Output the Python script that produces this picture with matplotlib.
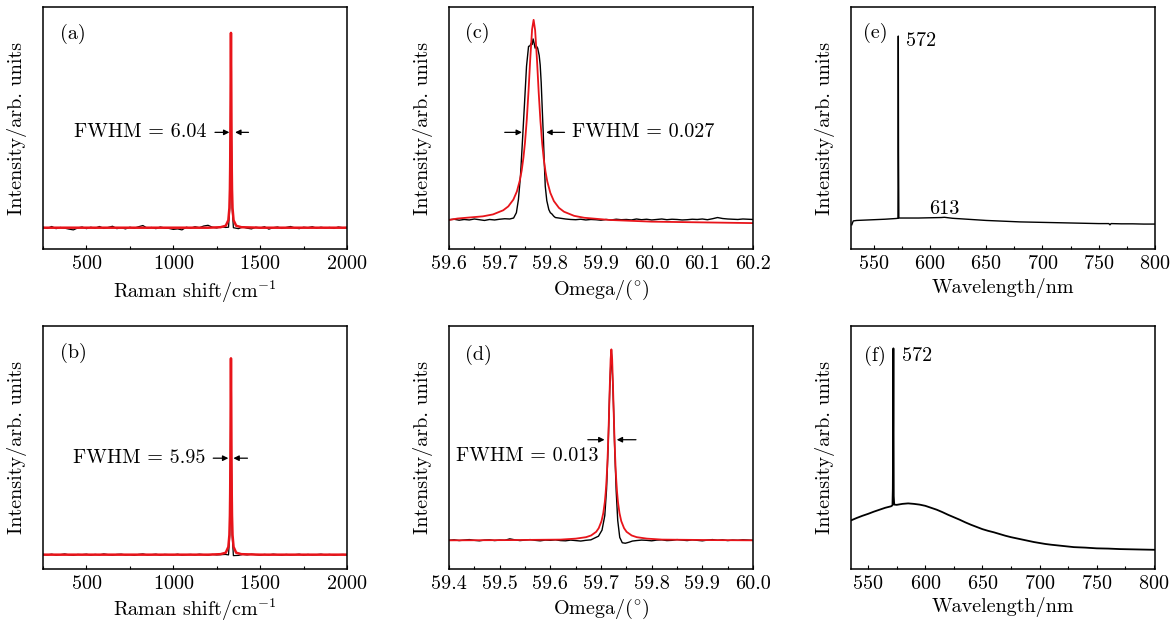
import matplotlib
matplotlib.use("Agg")
import matplotlib.pyplot as plt
from matplotlib.ticker import MultipleLocator

plt.rcParams["font.family"] = "cmr10"
plt.rcParams["mathtext.fontset"] = "cm"
plt.rcParams["axes.formatter.use_mathtext"] = True
plt.rcParams["font.size"] = 14.5

RED = "#e8141a"

# (a) Raman, sample 1
a_black_x = [250, 275, 300, 325, 350, 375, 400, 425, 450, 475, 500, 525, 550, 575, 600, 625,
             650, 675, 700, 725, 750, 775, 800, 825, 850, 875, 900, 925, 950, 975, 1000, 1025,
             1050, 1075, 1100, 1125, 1150, 1175, 1200, 1225, 1250, 1275, 1300,
             1318, 1325, 1329, 1332, 1335, 1339, 1346,
             1375, 1400, 1425, 1450, 1475, 1500, 1525, 1550, 1575, 1600, 1625, 1650, 1675,
             1700, 1725, 1750, 1775, 1800, 1825, 1850, 1875, 1900, 1925, 1950, 1975, 2000]
a_black_y = [.090, .085, .093, .084, .089, .086, .082, .079, .087, .091, .084, .090, .086, .093,
             .085, .089, .094, .084, .088, .083, .090, .086, .092, .097, .086, .089, .084, .091,
             .087, .085, .081, .083, .079, .090, .086, .092, .088, .095, .098, .090, .087, .092,
             .089,
             .090, .17, .45, .89, .45, .17, .088,
             .084, .091, .086, .083, .090, .087, .092, .082, .088, .091, .085, .089, .093, .087,
             .084, .090, .088, .092, .086, .090, .087, .089, .085, .091, .088, .089]
raman_fit_x = [250, 800, 1200, 1272, 1302, 1317, 1323, 1326, 1327.5, 1329, 1330.5, 1332,
               1333.5, 1335, 1336.5, 1338, 1341, 1347, 1362, 1392, 1500, 2000]
a_red_y = [.088, .088, .088, .090, .096, .119, .169, .249, .338, .490, .732, .893,
           .732, .490, .338, .249, .169, .119, .096, .090, .088, .088]

# (b) Raman, sample 2
b_black_x = a_black_x
b_black_y = [.060, .058, .061, .057, .059, .062, .058, .056, .060, .059, .061, .057, .060, .058,
             .062, .059, .057, .060, .061, .058, .059, .056, .060, .062, .058, .059, .061, .057,
             .060, .059, .058, .061, .057, .059, .060, .058, .061, .059, .057, .060, .058, .059,
             .060,
             .058, .14, .43, .86, .43, .14, .055,
             .056, .060, .058, .061, .059, .057, .060, .058, .061, .059, .057, .060, .058, .059,
             .061, .057, .060, .058, .059, .061, .058, .060, .057, .059, .060, .059]
b_red_y = [.059, .059, .059, .061, .067, .091, .140, .221, .309, .463, .705, .867,
           .705, .463, .309, .221, .140, .091, .067, .061, .059, .059]

# (c) rocking curve, sample 1
c_black_x = [59.60, 59.61, 59.62, 59.63, 59.64, 59.65, 59.66, 59.67, 59.68, 59.69, 59.70, 59.71,
             59.72,
             59.7275, 59.733, 59.737, 59.741, 59.744, 59.749, 59.753, 59.757, 59.760, 59.762,
             59.764, 59.766, 59.768, 59.770, 59.772, 59.775, 59.778, 59.780, 59.782, 59.784,
             59.786, 59.788, 59.790, 59.793, 59.797, 59.800, 59.803, 59.807,
             59.81, 59.82, 59.83, 59.84, 59.85, 59.86, 59.87, 59.88, 59.89, 59.90, 59.91, 59.92,
             59.93, 59.94, 59.95, 59.96, 59.97, 59.98, 59.99, 60.00, 60.01, 60.02, 60.03, 60.04,
             60.05, 60.06, 60.07, 60.08, 60.09, 60.10, 60.11, 60.12, 60.13, 60.14, 60.15, 60.16,
             60.17, 60.18, 60.19, 60.20]
c_black_y = [.121, .123, .119, .122, .120, .124, .121, .118, .122, .120, .123, .125, .124,
             .128, .15, .204, .30, .41, .60, .755, .837, .84, .85, .845, .868, .85, .83, .84,
             .83, .80, .76, .686, .58, .479, .36, .259, .20, .163, .15, .145, .135,
             .130, .127, .124, .122, .121, .123, .120, .122, .121, .119, .122, .120, .123, .121,
             .122, .120, .124, .121, .123, .120, .122, .124, .121, .123, .122, .120, .121, .123,
             .122, .124, .121, .125, .130, .126, .124, .123, .122, .124, .123, .122]
c_red_x = [59.60, 59.617, 59.667, 59.687, 59.707, 59.717, 59.727, 59.734, 59.740, 59.7435,
           59.747, 59.750, 59.7535, 59.757, 59.76025, 59.764, 59.767,
           59.770, 59.77375, 59.777, 59.7805, 59.784, 59.787, 59.7905, 59.794, 59.800, 59.807,
           59.817, 59.827, 59.847, 59.867, 59.917, 60.0, 60.1, 60.2]
c_red_y = [.120, .126, .135, .143, .160, .176, .204, .238, .285, .325,
           .379, .440, .534, .654, .782, .908, .947,
           .904, .778, .648, .528, .434, .373, .319, .279, .232, .198,
           .170, .154, .137, .129, .120, .113, .110, .107]

# (d) rocking curve, sample 2
d_black_x = [59.40, 59.41, 59.42, 59.43, 59.44, 59.45, 59.46, 59.47, 59.48, 59.49, 59.50, 59.51,
             59.52, 59.53, 59.54, 59.55, 59.56, 59.57, 59.58, 59.59, 59.60, 59.61, 59.62, 59.63,
             59.64, 59.65, 59.66, 59.67,
             59.68, 59.695, 59.702, 59.7075, 59.711, 59.714, 59.7172, 59.7205, 59.7237, 59.727,
             59.730, 59.733, 59.737, 59.742, 59.748, 59.755, 59.762,
             59.77, 59.78, 59.79, 59.80, 59.81, 59.82, 59.83, 59.84, 59.85, 59.86, 59.87, 59.88,
             59.89, 59.90, 59.91, 59.92, 59.93, 59.94, 59.95, 59.96, 59.97, 59.98, 59.99, 60.00]
d_black_y = [.118, .120, .117, .119, .121, .118, .116, .119, .120, .117, .119, .118, .124, .120,
             .117, .119, .121, .118, .116, .119, .118, .120, .117, .116, .119, .117, .115, .118,
             .120, .135, .16, .22, .33, .50, .74, .90, .74, .50, .32, .20, .13, .108, .106, .110,
             .115,
             .117, .119, .118, .116, .119, .120, .117, .118, .121, .119, .117, .120, .118, .116,
             .119, .121, .118, .120, .117, .119, .118, .120, .119, .118]
d_red_x = [59.40, 59.5205, 59.6205, 59.6505, 59.6705, 59.6805, 59.6905, 59.6955, 59.7010,
           59.7045, 59.7075, 59.7092, 59.7108, 59.7123, 59.7140, 59.7157, 59.71725, 59.7190,
           59.7205,
           59.7220, 59.72375, 59.7253, 59.7270, 59.7287, 59.7302, 59.7318, 59.7335, 59.7365,
           59.7400, 59.7455, 59.7505, 59.7605, 59.7705, 59.7905, 59.8205, 59.9205, 60.00]
d_red_y = [.118, .119, .121, .125, .131, .138, .153, .168, .197,
           .230, .275, .314, .362, .421, .511, .627, .747, .864,
           .904,
           .864, .747, .627, .511, .421, .362, .314, .275, .230,
           .197, .168, .153, .138, .131, .125, .121, .119, .118]

# (e) PL, sample 1
e_x = [530.7, 532, 535, 540, 550, 560, 570, 571.7, 571.9, 572.0, 572.2, 572.5, 580, 590, 600,
       610, 613, 620, 630, 640, 650, 660, 670, 680, 690, 700, 710, 720, 730, 740, 750, 759, 760,
       761, 770, 780, 790, 800]
e_y = [.100, .116, .118, .119, .121, .123, .126, .127, .60, .880, .40, .128, .128, .128, .129,
       .130, .131, .127, .124, .121, .118, .116, .114, .112, .111, .110, .109, .108, .107, .106,
       .105, .105, .100, .105, .104, .104, .103, .103]

# (f) PL, sample 2
f_x = [535, 540, 545, 550, 555, 560, 565, 570, 571.3, 571.6, 571.9, 572.1, 572.4, 572.8,
       575, 580, 585, 590, 595, 600, 605, 610, 615, 620, 625, 630, 635, 640, 645, 650, 655, 660,
       665, 670, 675, 680, 685, 690, 695, 700, 705, 710,
       720, 730, 740, 750, 760, 770, 780, 790, 801]
f_y = [.200, .210, .219, .227, .236, .244, .252, .258, .262, .33, .62, .908, .30, .265,
       .264, .268, .270, .268, .265, .260, .252, .244, .234, .223, .213, .203, .192, .182, .173,
       .164, .157, .151, .144, .137, .131, .126, .121, .116, .111, .107, .103, .100,
       .095, .090, .088, .085, .084, .082, .081, .080, .079]

W, H = 1175, 622
COLS = [43, 449, 851]
ROWS = [(7, 249), (326, 569)]
AXW = 304

fig = plt.figure(figsize=(W / 100, H / 100), dpi=100)


def make_ax(col, row, xlim, major, minor, xlabel):
    top, bot = ROWS[row]
    ax = fig.add_axes([COLS[col] / W, 1 - bot / H, AXW / W, (bot - top) / H])
    ax.set_xlim(*xlim)
    ax.set_ylim(0, 1)
    ax.xaxis.set_major_locator(MultipleLocator(major))
    ax.xaxis.set_minor_locator(MultipleLocator(minor))
    ax.set_yticks([])
    ax.tick_params(axis="x", which="both", direction="in", top=False, width=0.8, pad=4.5)
    ax.tick_params(axis="x", which="major", length=3.2)
    ax.tick_params(axis="x", which="minor", length=2.0)
    for s in ax.spines.values():
        s.set_linewidth(1.1)
    ax.set_xlabel(xlabel, labelpad=3.5 if row == 0 else 2.5)
    ax.set_ylabel("Intensity/arb. units")
    ax.yaxis.set_label_coords(-16 / AXW, 0.5)
    return ax


def arrow(ax, tail, head, y):
    ax.annotate("", xy=(head, y), xytext=(tail, y),
                arrowprops=dict(arrowstyle="-|>", color="k", lw=0.9, mutation_scale=8,
                                shrinkA=0, shrinkB=0))


raman_label = r"Raman shift/cm$^{-1}$"
omega_label = r"Omega/($^{\circ}$)"
wl_label = "Wavelength/nm"

# (a)
ax = make_ax(0, 0, (250, 2000), 500, 250, raman_label)
ax.plot(a_black_x, a_black_y, color="k", lw=0.9)
ax.plot(raman_fit_x, a_red_y, color=RED, lw=1.8)
ax.text(0.055, 0.89, "(a)", transform=ax.transAxes, va="center")
ax.text(1192, 0.482, "FWHM = 6.04", ha="right", va="center")
arrow(ax, 1240, 1323, 0.482)
arrow(ax, 1433, 1356, 0.482)

# (b)
ax = make_ax(0, 1, (250, 2000), 500, 250, raman_label)
ax.plot(b_black_x, b_black_y, color="k", lw=0.9)
ax.plot(raman_fit_x, b_red_y, color=RED, lw=1.8)
ax.text(0.055, 0.888, "(b)", transform=ax.transAxes, va="center")
ax.text(1183, 0.456, "FWHM = 5.95", ha="right", va="center")
arrow(ax, 1230, 1317, 0.456)
arrow(ax, 1427, 1346, 0.456)

# (c)
ax = make_ax(1, 0, (59.6, 60.2), 0.1, 0.05, omega_label)
ax.xaxis.set_major_formatter(plt.FormatStrFormatter("%.1f"))
ax.plot(c_black_x, c_black_y, color="k", lw=1.0)
ax.plot(c_red_x, c_red_y, color=RED, lw=1.3)
ax.text(0.053, 0.893, "(c)", transform=ax.transAxes, va="center")
ax.text(59.843, 0.482, "FWHM = 0.027", ha="left", va="center")
arrow(ax, 59.71, 59.744, 0.482)
arrow(ax, 59.828, 59.792, 0.482)

# (d)
ax = make_ax(1, 1, (59.4, 60.0), 0.1, 0.05, omega_label)
ax.xaxis.set_major_formatter(plt.FormatStrFormatter("%.1f"))
ax.plot(d_black_x, d_black_y, color="k", lw=1.0)
ax.plot(d_red_x, d_red_y, color=RED, lw=1.3)
ax.text(0.053, 0.88, "(d)", transform=ax.transAxes, va="center")
ax.text(59.414, 0.466, "FWHM = 0.013", ha="left", va="center")
arrow(ax, 59.674, 59.707, 0.532)
arrow(ax, 59.769, 59.731, 0.532)

# (e)
ax = make_ax(2, 0, (530, 800), 50, 25, wl_label)
ax.plot(e_x, e_y, color="k", lw=1.0)
ax.text(0.041, 0.893, "(e)", transform=ax.transAxes, va="center")
ax.text(578.7, 0.858, "572", ha="left", va="center")
ax.text(599.5, 0.165, "613", ha="left", va="center")

# (f)
ax = make_ax(2, 1, (535, 801), 50, 25, wl_label)
ax.plot(f_x, f_y, color="k", lw=1.3)
ax.text(0.043, 0.877, "(f)", transform=ax.transAxes, va="center")
ax.text(579.4, 0.877, "572", ha="left", va="center")

fig.savefig("out.png", dpi=100)
